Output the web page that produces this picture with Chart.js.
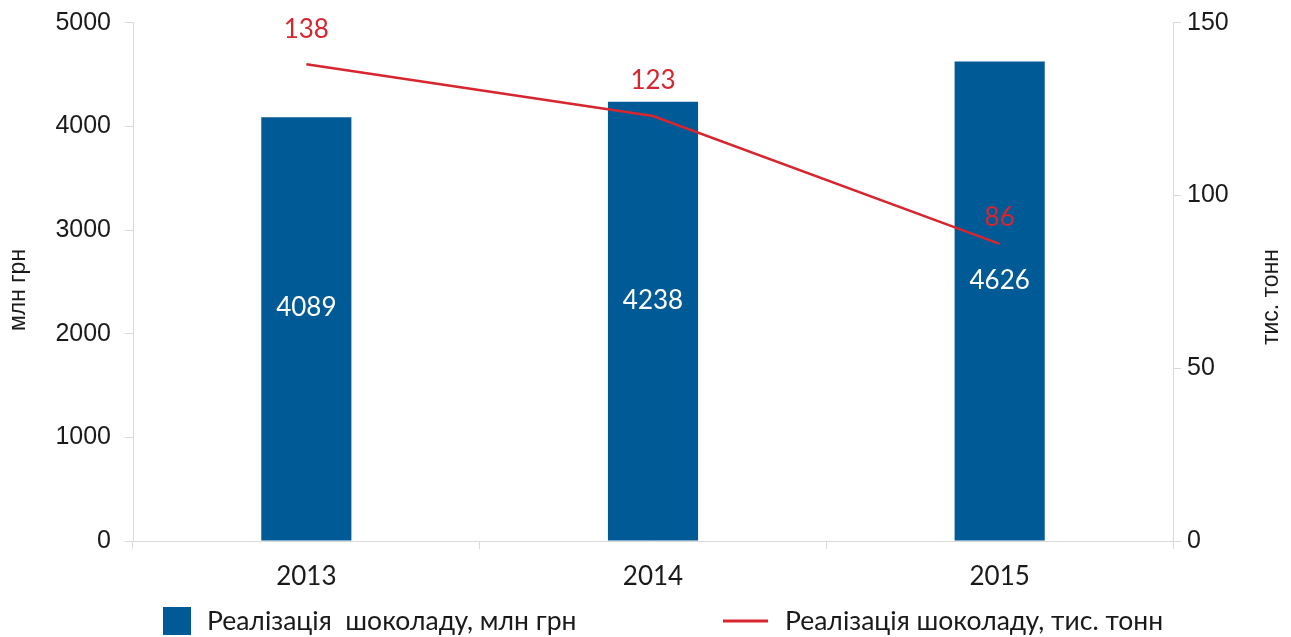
<!DOCTYPE html>
<html>
<head>
<meta charset="utf-8">
<script src="https://cdn.jsdelivr.net/npm/chart.js@4"></script>
<style>
  html, body { margin: 0; padding: 0; background: #fff; }
  #wrap { width: 1291px; height: 637px; }
</style>
</head>
<body>
<div id="wrap"><canvas id="myChart" width="1291" height="637"></canvas></div>
<script>
const roky = ['2013', '2014', '2015']
const mlnGrn = [4089, 4238, 4626]
const tysTonn = [138, 123, 86]
const leftTicks = [0, 1000, 2000, 3000, 4000, 5000]
const rightTicks = [0, 50, 100, 150]
const nazvy = ['Реалізація  шоколаду, млн грн', 'Реалізація шоколаду, тис. тонн']

const synij = '#005a96'
const chervonyj = '#d7262f'
const siryj = '#d9d9d9'
const shryft = 'Lato, "Noto Sans", sans-serif'
const arial = '"Liberation Sans", Arial, sans-serif'

// подписи значений, названия осей и легенда рисуются вручную
const pidpysy = {
  id: 'pidpysy',
  afterDatasetsDraw(chart) {
    const c = chart.ctx
    const x = chart.scales.x
    const y = chart.scales.y
    const y1 = chart.scales.y1
    c.save()
    c.font = '26px ' + shryft
    c.textAlign = 'center'
    c.textBaseline = 'middle'
    c.fillStyle = '#ffffff'
    mlnGrn.forEach((v, i) => {
      const cx = x.getPixelForValue(i)
      const cy = (y.getPixelForValue(v) + y.getPixelForValue(0)) / 2 - 21
      c.fillText(String(v), cx, cy)
    })
    c.fillStyle = chervonyj
    tysTonn.forEach((v, i) => {
      const cx = x.getPixelForValue(i)
      const off = i === 2 ? 26 : 35
      c.fillText(String(v), cx, y1.getPixelForValue(v) - off)
    })

    // назви осей
    c.fillStyle = '#1a1a1a'
    c.font = '23px ' + arial
    c.save()
    c.translate(19, 290)
    c.rotate(-Math.PI / 2)
    c.fillText('млн грн', 0, 0)
    c.restore()
    c.save()
    c.translate(1272, 297)
    c.rotate(-Math.PI / 2)
    c.fillText('тис. тонн', 0, 0)
    c.restore()

    // легенда
    c.font = '26.5px ' + shryft
    c.textAlign = 'left'
    c.fillStyle = synij
    c.fillRect(163, 607, 28, 28)
    c.fillStyle = '#1a1a1a'
    c.fillText(nazvy[0], 207, 621)
    c.strokeStyle = chervonyj
    c.lineWidth = 3
    c.beginPath()
    c.moveTo(723, 621)
    c.lineTo(768, 621)
    c.stroke()
    c.fillText(nazvy[1], 785, 621)
    c.restore()
  }
}

const ctx = document.getElementById('myChart')
const myChart = new Chart(ctx, {
  type: 'bar',
  data: {
    labels: roky,
    datasets: [
      {
        type: 'line',
        label: nazvy[1],
        data: tysTonn,
        yAxisID: 'y1',
        borderColor: chervonyj,
        borderWidth: 2.5,
        pointRadius: 0,
        tension: 0,
        order: 0
      },
      {
        label: nazvy[0],
        data: mlnGrn,
        yAxisID: 'y',
        backgroundColor: synij,
        barPercentage: 0.26,
        categoryPercentage: 1,
        order: 1
      }
    ]
  },
  options: {
    responsive: false,
    animation: false,
    layout: { padding: 0 },
    plugins: {
      legend: { display: false },
      tooltip: { enabled: false }
    },
    scales: {
      x: {
        grid: { drawOnChartArea: false, color: siryj, tickLength: 8, offset: true },
        border: { color: siryj },
        ticks: { color: '#1a1a1a', font: { family: shryft, size: 26 }, padding: 12 },
        afterFit(s) { s.height = 96 }
      },
      y: {
        position: 'left',
        min: 0,
        max: 5000,
        afterBuildTicks(s) { s.ticks = leftTicks.map(v => ({ value: v })) },
        grid: { drawOnChartArea: false, color: siryj, tickLength: 8 },
        border: { color: siryj },
        ticks: {
          color: '#1a1a1a',
          font: { family: arial, size: 25, lineHeight: 0.7 },
          padding: 14,
          callback: v => String(v)
        },
        afterFit(s) { s.width = 133 }
      },
      y1: {
        position: 'right',
        min: 0,
        max: 150,
        afterBuildTicks(s) { s.ticks = rightTicks.map(v => ({ value: v })) },
        grid: { drawOnChartArea: false, color: siryj, tickLength: 8 },
        border: { color: siryj },
        ticks: {
          color: '#1a1a1a',
          font: { family: arial, size: 25, lineHeight: 0.7 },
          padding: 6,
          callback: v => String(v)
        },
        afterFit(s) { s.width = 118 }
      }
    }
  },
  plugins: [pidpysy]
})
</script>
</body>
</html>
